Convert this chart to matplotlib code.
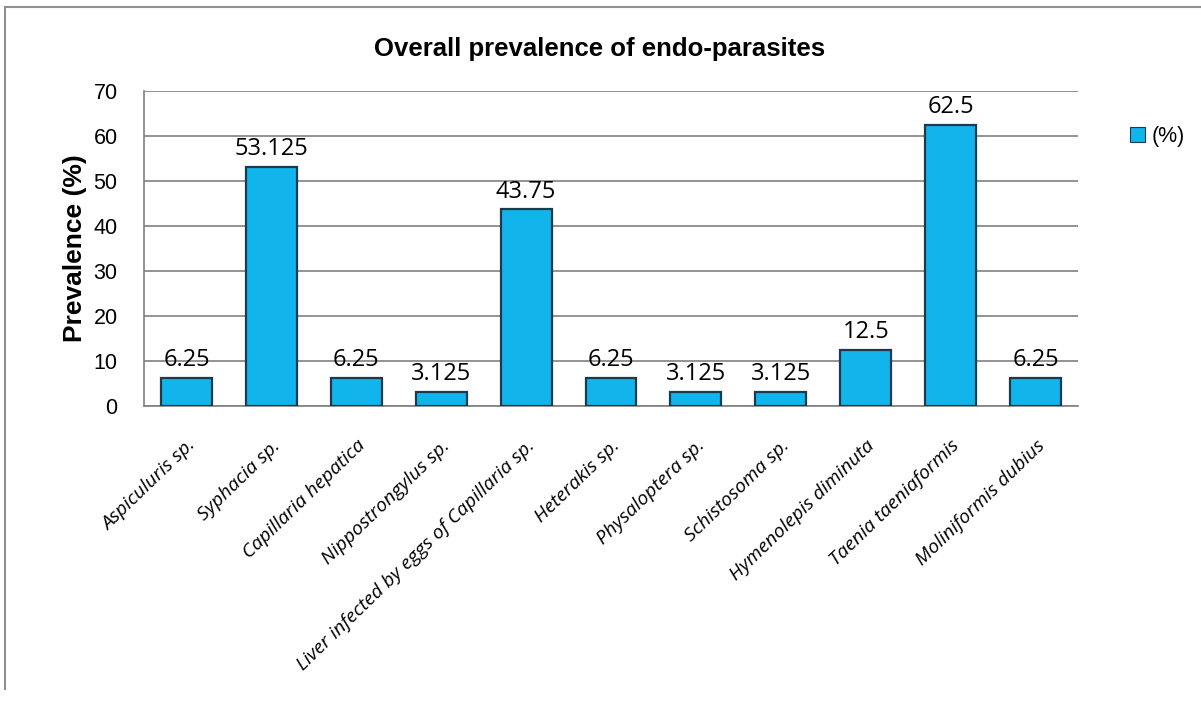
import matplotlib
matplotlib.use('Agg')
import numpy as np
from matplotlib import pyplot as plt
from matplotlib.lines import Line2D
from matplotlib.patches import Patch

# data
categories = ['Aspiculuris sp.', 'Syphacia sp.', 'Capillaria hepatica',
              'Nippostrongylus sp.', 'Liver infected by eggs of Capillaria sp.',
              'Heterakis sp.', 'Physaloptera sp.', 'Schistosoma sp.',
              'Hymenolepis diminuta', 'Taenia taeniaformis', 'Moliniformis dubius']
prevalence = [6.25, 53.125, 6.25, 3.125, 43.75, 6.25, 3.125, 3.125, 12.5, 62.5, 6.25]
value_labels = ['6.25', '53.125', '6.25', '3.125', '43.75', '6.25', '3.125',
                '3.125', '12.5', '62.5', '6.25']
yticks = [0, 10, 20, 30, 40, 50, 60, 70]

plt.rcParams['font.family'] = ['Liberation Sans', 'DejaVu Sans']

fig = plt.figure(figsize=(12.01, 7.03), dpi=100)
ax = fig.add_axes([0.1199, 0.4225, 0.7777, 0.448])

x = np.arange(len(categories))
bars = ax.bar(x, prevalence, width=0.6, color='#12B4EC', edgecolor='#1B3A4E',
              linewidth=1.6, zorder=3, label='(%)')

for xi, v, lab in zip(x, prevalence, value_labels):
    ax.annotate(lab, (xi, v), xytext=(0, 4), textcoords='offset points',
                ha='center', va='bottom', fontsize=17, family='Open Sans',
                color='black')

ax.set_xlim(-0.5, len(categories) - 0.5)
ax.set_ylim(0, 70)
ax.set_yticks(yticks)
ax.tick_params(axis='y', labelsize=15.5, length=0, pad=19)
ax.tick_params(axis='x', length=0, pad=22)
ax.set_xticks(x)
ax.set_xticklabels(categories, rotation=44, ha='right', rotation_mode='anchor',
                   fontsize=14, style='italic', family='Open Sans')
ax.grid(axis='y', color='#808080', linewidth=1.2, zorder=0)
for s in ['top', 'right']:
    ax.spines[s].set_visible(False)
ax.spines['left'].set_color('#808080')
ax.spines['bottom'].set_color('#808080')
ax.spines['left'].set_linewidth(1.2)
ax.spines['bottom'].set_linewidth(1.2)

ax.set_ylabel('Prevalence (%)', fontsize=19, fontweight='bold', labelpad=5)
fig.text(0.4995, 0.93, 'Overall prevalence of endo-parasites', ha='center',
         va='center', fontsize=18.5, fontweight='bold')

handle = Patch(facecolor='#12B4EC', edgecolor='#1B3A4E', linewidth=0.8)
fig.legend([handle], ['(%)'], loc='center left', bbox_to_anchor=(0.925, 0.806),
           frameon=False, fontsize=15.5, handlelength=0.7, handleheight=0.7,
           handletextpad=0.3)

# outer chart frame
fig.add_artist(Line2D([0.0045, 0.0045], [0.02, 0.99], color='#909090', lw=1.5))
fig.add_artist(Line2D([0.0045, 1.0], [0.99, 0.99], color='#909090', lw=1.5))

fig.savefig('out.png', dpi=100)
